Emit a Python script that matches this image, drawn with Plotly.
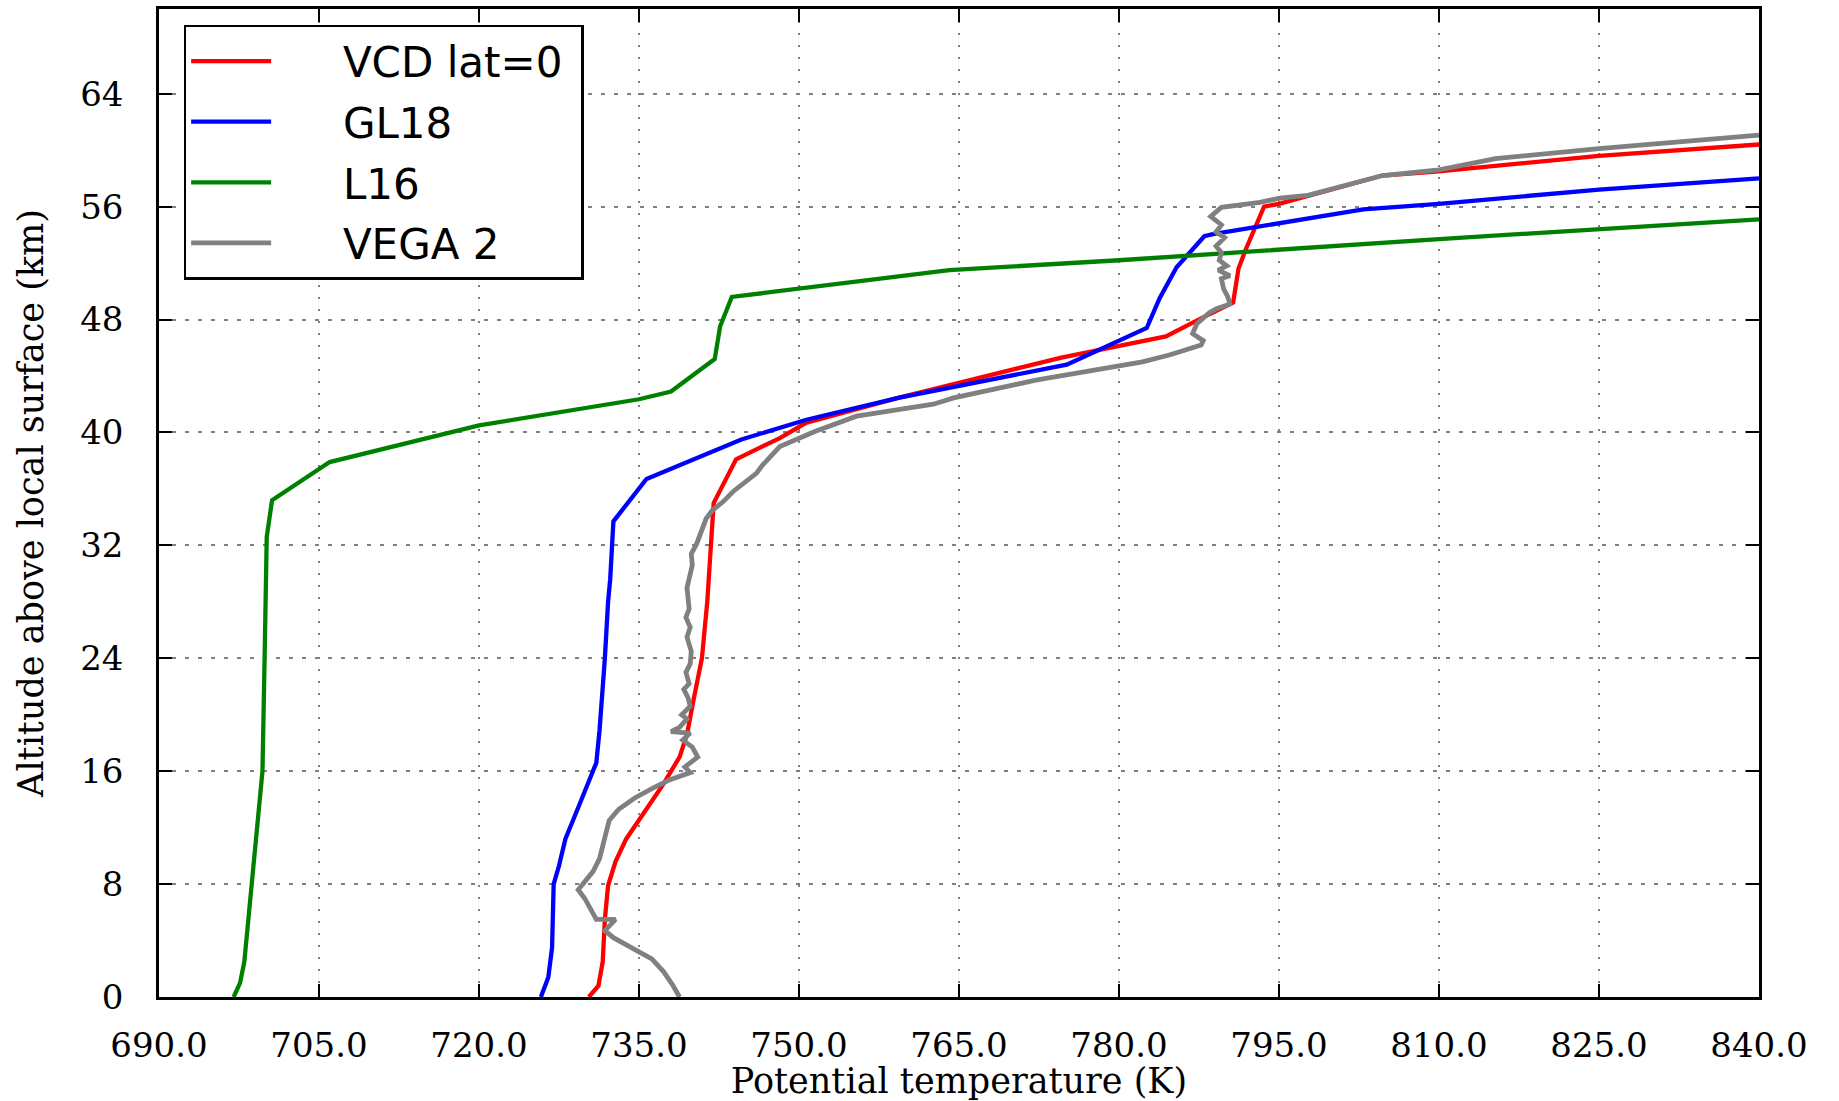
import plotly.graph_objects as go

# ---------------- data ----------------
vcd_T = [730.3, 731.2, 731.6, 731.8, 732.1, 732.8, 733.8, 735.5, 737.3, 738.8, 739.5, 740.1,
         740.9, 741.4, 741.7, 742.0, 744.1, 748.2, 750.7, 759.3, 774.6, 784.4, 787.6, 790.7,
         791.2, 791.9, 793.6, 795.0, 804.7, 810.0, 825.0, 840.0]
vcd_z = [0.0, 0.8, 2.5, 5.5, 7.9, 9.6, 11.2, 13.1, 15.1, 17.0, 18.6, 21.0,
         24.0, 28.0, 31.5, 35.0, 38.1, 39.6, 40.7, 42.45, 45.3, 46.8, 48.05, 49.2,
         51.6, 53.0, 56.0, 56.2, 58.2, 58.5, 59.6, 60.4]

gl18_T = [725.8, 726.5, 726.85, 727.0, 727.5, 728.1, 729.4, 731.0, 731.3, 731.6, 731.8, 732.1,
          732.3, 732.6, 735.7, 744.6, 750.7, 759.3, 775.1, 782.6, 783.8, 785.4, 786.6, 788.0,
          788.8, 795.0, 802.9, 810.0, 825.0, 840.0]
gl18_z = [0.0, 1.4, 3.5, 8.0, 9.3, 11.2, 13.6, 16.6, 18.9, 21.7, 24.0, 28.0,
          29.6, 33.7, 36.7, 39.5, 40.9, 42.45, 44.8, 47.4, 49.5, 51.7, 52.75, 53.9,
          54.05, 54.8, 55.8, 56.2, 57.2, 58.0]

l16_T = [697.0, 697.6, 698.0, 698.7, 699.4, 699.7, 699.9, 700.1, 700.6, 706.0, 720.0, 735.0,
         738.0, 742.1, 742.6, 743.7, 764.1, 780.0, 810.0, 840.0]
l16_z = [0.0, 1.0, 2.5, 8.0, 13.0, 16.0, 24.0, 32.6, 35.2, 37.9, 40.5, 42.35,
         42.9, 45.2, 47.5, 49.6, 51.5, 52.2, 53.7, 55.1]

vega_T = [738.8, 738.2, 737.3, 736.2, 735.0, 733.8, 732.6, 731.8, 732.8, 731.0, 730.4, 729.9,
          729.3, 729.9, 730.7, 731.3, 731.9, 732.2, 733.1, 734.6, 736.3, 737.9, 739.8, 739.3,
          740.5, 740.0, 739.1, 739.8, 738.0, 738.8, 739.5, 739.0, 739.8, 739.6, 739.2, 739.7,
          739.4, 739.8, 739.9, 739.5, 739.8, 739.4, 739.7, 739.5, 740.0, 739.9, 740.4, 740.9,
          741.3, 741.9, 742.9, 743.8, 744.8, 746.0, 746.6, 747.6, 748.2, 751.6, 755.4, 762.6,
          764.5, 772.2, 782.2, 784.8, 787.7, 787.9, 786.9, 787.3, 788.5, 789.1, 790.4, 790.2,
          789.8, 789.6, 790.4, 789.3, 790.1, 789.4, 789.6, 789.1, 789.9, 789.1, 789.6, 788.6,
          789.3, 789.6, 793.2, 795.1, 797.7, 804.7, 810.0, 815.3, 825.0, 840.0]
vega_z = [0.0, 0.8, 1.8, 2.7, 3.2, 3.7, 4.2, 4.7, 5.5, 5.5, 6.3, 7.0,
          7.6, 8.2, 8.9, 9.8, 11.4, 12.5, 13.3, 14.1, 14.8, 15.4, 15.9, 16.3,
          17.0, 17.7, 18.2, 18.7, 18.8, 19.1, 19.7, 20.0, 20.6, 21.2, 21.8, 22.2,
          23.0, 23.6, 24.5, 25.5, 26.2, 26.9, 27.5, 29.0, 30.6, 31.4, 32.1, 33.0,
          33.9, 34.5, 35.1, 35.8, 36.4, 37.1, 37.7, 38.5, 39.0, 40.1, 41.15, 42.0,
          42.45, 43.7, 45.0, 45.5, 46.2, 46.5, 47.0, 47.7, 48.5, 48.75, 49.1, 49.6,
          50.2, 50.9, 51.1, 51.5, 51.8, 52.2, 52.75, 53.2, 53.8, 54.2, 54.7, 55.3,
          55.7, 55.95, 56.3, 56.6, 56.8, 58.2, 58.6, 59.4, 60.1, 61.07]

x_ticks = [690, 705, 720, 735, 750, 765, 780, 795, 810, 825, 840]
x_tick_labels = ["690.0", "705.0", "720.0", "735.0", "750.0", "765.0", "780.0",
                 "795.0", "810.0", "825.0", "840.0"]
y_ticks = [0, 8, 16, 24, 32, 40, 48, 56, 64]

series_names = ["VCD lat=0", "GL18", "L16", "VEGA 2"]
series_colors = ["#ff0000", "#0000ff", "#008000", "#808080"]

# ---------------- figure ----------------
fig = go.Figure()
all_T = [vcd_T, gl18_T, l16_T, vega_T]
all_z = [vcd_z, gl18_z, l16_z, vega_z]
widths = [4.3, 4.3, 4.3, 4.8]
gap = "\u00a0" * 5
for i, name in enumerate(series_names):
    fig.add_trace(go.Scatter(
        x=all_T[i], y=all_z[i], mode="lines", name=gap + name + "\u00a0",
        legendgroup=name,
        line=dict(color=series_colors[i], width=widths[i]),
    ))

serif = "DejaVu Serif"
axis_common = dict(
    showline=True, linecolor="black", linewidth=2.5, mirror="allticks",
    ticks="inside", ticklen=13, tickwidth=2, tickcolor="black",
    showgrid=True, gridcolor="#808080", gridwidth=1.5,
    zeroline=False,
    tickfont=dict(family=serif, size=34, color="black"),
)

fig.update_xaxes(
    range=[690, 840], tickvals=x_ticks, ticktext=x_tick_labels,
    griddash="2px,10px", ticklabelstandoff=16,
    title=dict(text="Potential temperature (K)", standoff=6,
               font=dict(family=serif, size=35, color="black")),
    **axis_common,
)
fig.update_yaxes(
    range=[0, 70], tickvals=y_ticks,
    griddash="4px,9px", ticklabelstandoff=26,
    title=dict(text="Altitude above local surface (km)", standoff=26,
               font=dict(family=serif, size=35, color="black")),
    **axis_common,
)

fig.update_layout(
    width=1839, height=1101,
    margin=dict(l=159, r=80, t=6, b=103),
    paper_bgcolor="white", plot_bgcolor="white",
    legend=dict(
        x=0.0154, y=0.984, xanchor="left", yanchor="top",
        bgcolor="white", bordercolor="black", borderwidth=2.5,
        font=dict(family="DejaVu Sans", size=42, color="black"),
        itemwidth=80, tracegroupgap=3,
    ),
    showlegend=True,
)

fig.write_html("out.html")
